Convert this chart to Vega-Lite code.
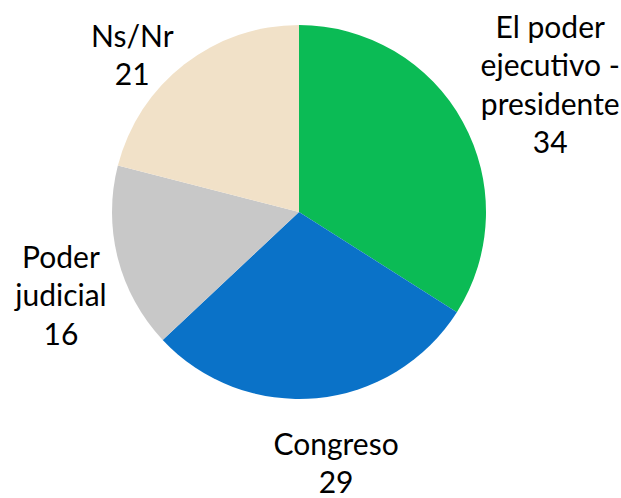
{
  "$schema": "https://vega.github.io/schema/vega-lite/v6.json",
  "width": 598,
  "height": 424,
  "autosize": {"type": "none"},
  "padding": {"left": 0, "top": 0, "right": 23, "bottom": 74},
  "background": "white",
  "view": {"stroke": null},
  "data": {
    "values": [
      {"categoria": "El  poder|ejecutivo -|presidente", "valor": 34, "orden": 1},
      {"categoria": "Congreso", "valor": 29, "orden": 2},
      {"categoria": "Poder|judicial", "valor": 16, "orden": 3},
      {"categoria": "Ns/Nr", "valor": 21, "orden": 4}
    ]
  },
  "transform": [
    {"stack": "valor", "groupby": [], "sort": [{"field": "orden", "order": "ascending"}], "as": ["inicio", "fin"]},
    {"calculate": "(datum.inicio + datum.fin) / 2", "as": "medio"},
    {"calculate": "datum.categoria + '|' + datum.valor", "as": "etiqueta"}
  ],
  "layer": [
    {
      "mark": {"type": "arc", "outerRadius": 187, "stroke": null},
      "encoding": {
        "theta": {"field": "inicio", "type": "quantitative", "scale": {"domain": [0, 100], "range": [0, 6.283185307179586]}},
        "theta2": {"field": "fin"},
        "color": {
          "field": "categoria",
          "type": "nominal",
          "scale": {
            "domain": ["El  poder|ejecutivo -|presidente", "Congreso", "Poder|judicial", "Ns/Nr"],
            "range": ["#0BBB55", "#0A72C8", "#C8C8C8", "#F1E1C8"]
          },
          "legend": null
        }
      }
    },
    {
      "transform": [{"filter": "datum.orden == 1"}],
      "mark": {"type": "text", "font": "Lato", "fontSize": 30, "lineHeight": 38.5, "lineBreak": "|", "align": "center", "baseline": "middle", "color": "#000000", "radius": 281, "dx": 5, "dy": -48},
      "encoding": {
        "theta": {"field": "medio", "type": "quantitative", "scale": {"domain": [0, 100], "range": [0, 6.283185307179586]}},
        "text": {"field": "etiqueta", "type": "nominal"}
      }
    },
    {
      "transform": [{"filter": "datum.orden == 2"}],
      "mark": {"type": "text", "font": "Lato", "fontSize": 30, "lineHeight": 38.5, "lineBreak": "|", "align": "center", "baseline": "middle", "color": "#000000", "radius": 256, "dx": 13, "dy": -21},
      "encoding": {
        "theta": {"field": "medio", "type": "quantitative", "scale": {"domain": [0, 100], "range": [0, 6.283185307179586]}},
        "text": {"field": "etiqueta", "type": "nominal"}
      }
    },
    {
      "transform": [{"filter": "datum.orden == 3"}],
      "mark": {"type": "text", "font": "Lato", "fontSize": 30, "lineHeight": 38.5, "lineBreak": "|", "align": "center", "baseline": "middle", "color": "#000000", "radius": 253, "dx": 7, "dy": -16},
      "encoding": {
        "theta": {"field": "medio", "type": "quantitative", "scale": {"domain": [0, 100], "range": [0, 6.283185307179586]}},
        "text": {"field": "etiqueta", "type": "nominal"}
      }
    },
    {
      "transform": [{"filter": "datum.orden == 4"}],
      "mark": {"type": "text", "font": "Lato", "fontSize": 30, "lineHeight": 38.5, "lineBreak": "|", "align": "center", "baseline": "middle", "color": "#000000", "radius": 228, "dx": -27, "dy": 6},
      "encoding": {
        "theta": {"field": "medio", "type": "quantitative", "scale": {"domain": [0, 100], "range": [0, 6.283185307179586]}},
        "text": {"field": "etiqueta", "type": "nominal"}
      }
    }
  ]
}
